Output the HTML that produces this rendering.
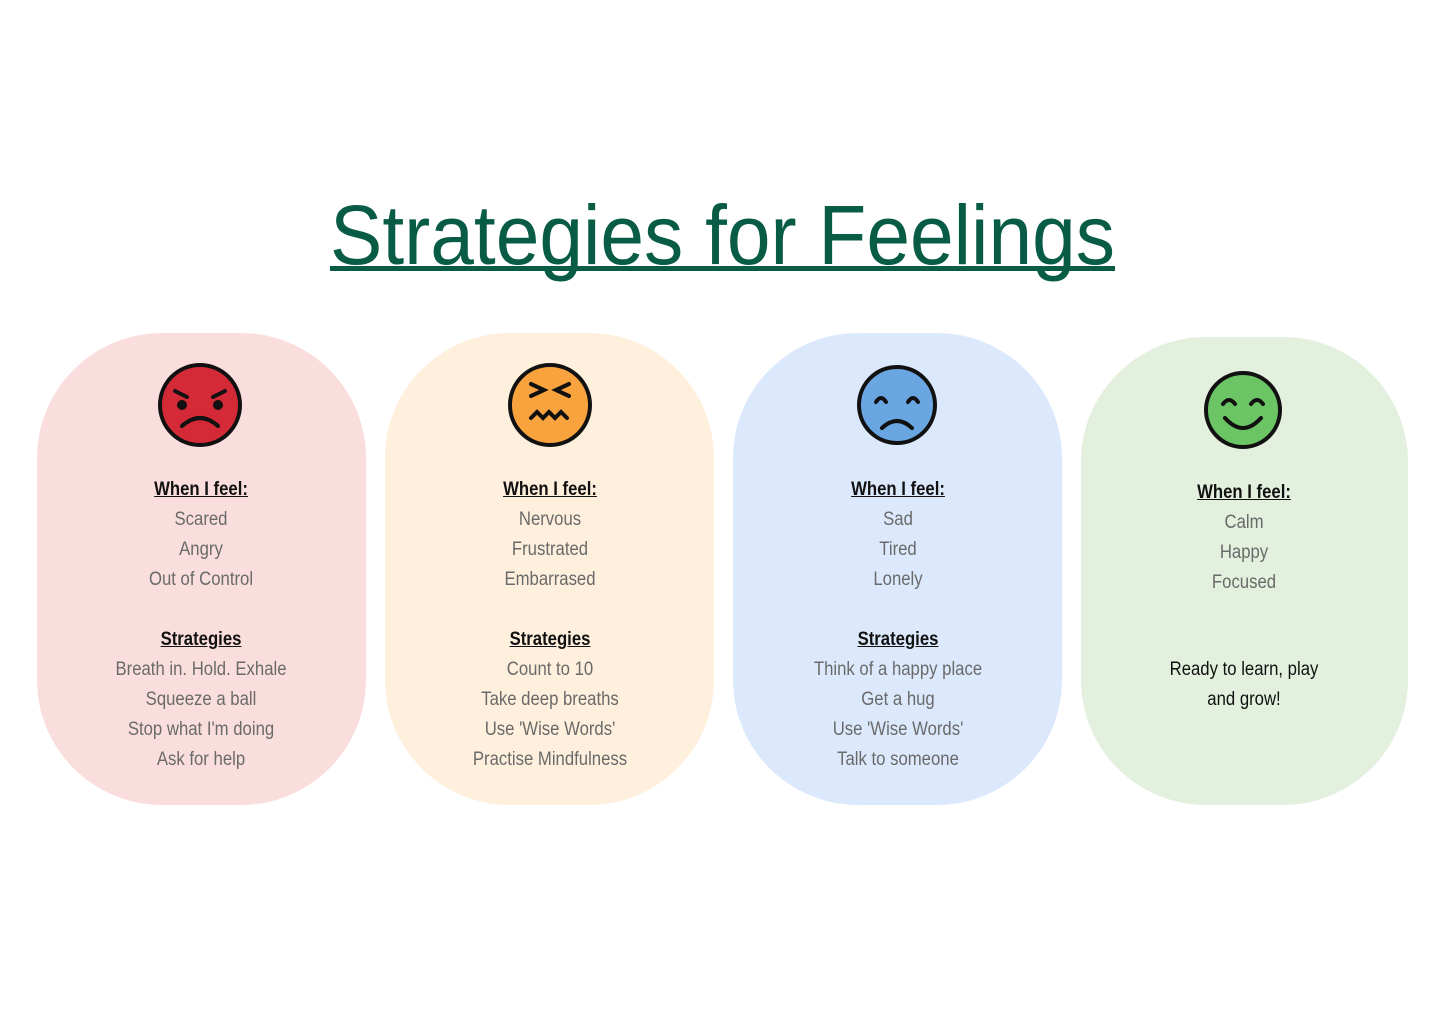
<!DOCTYPE html>
<html><head><meta charset="utf-8"><style>
body{margin:0;width:1445px;height:1025px;background:#fff;position:relative;overflow:hidden;font-family:"Liberation Sans Narrow","Liberation Sans",sans-serif}
.card{position:absolute;border-radius:125px}
.t{position:absolute;width:330px;text-align:center;font-size:19px;color:#6a6a6a;line-height:30px;transform:scaleX(0.88)}
.h{color:#111;font-weight:bold;text-decoration:underline}
.k{color:#111}
svg.f{position:absolute}
</style></head><body>
<svg width="1445" height="300" style="position:absolute;left:0;top:0">
<text x="330" y="264" textLength="785" lengthAdjust="spacingAndGlyphs" font-family="Liberation Sans, sans-serif" font-size="84" fill="#085c46">Strategies for Feelings</text>
<rect x="330" y="266" width="785" height="5" fill="#085c46"/>
</svg>
<div class="card" style="left:37px;top:333px;width:329px;height:472px;background:#fadedd"></div>
<div class="card" style="left:385px;top:333px;width:329px;height:472px;background:#fef0dc"></div>
<div class="card" style="left:733px;top:333px;width:329px;height:472px;background:#dce9fc"></div>
<div class="card" style="left:1081px;top:337px;width:327px;height:468px;background:#e3f0de"></div>

<svg class="f" style="left:0;top:0" width="1445" height="460">
<g stroke="#111" stroke-width="4" fill="none" stroke-linecap="round">
<circle cx="200" cy="405" r="40" fill="#d42a38"/>
<path d="M175 391l12 6M225 391l-12 6M182 426q18-16 36 0"/>
<circle cx="182" cy="405" r="3" fill="#111"/><circle cx="218" cy="405" r="3" fill="#111"/>
<circle cx="550" cy="405" r="40" fill="#f9a33e"/>
<path d="M531 384l13 6-13 6M569 384l-13 6 13 6M531 418l6-6 6 6 6-6 6 6 6-6 6 6"/>
<circle cx="897" cy="405" r="38" fill="#6aa6e2"/>
<path d="M876 402q5-8 10 0M908 402q5-8 10 0M882 428q15-14 30 0"/>
<circle cx="1243" cy="410" r="37" fill="#6cc564"/>
<path d="M1223 404q6-8 12 0M1251 404q6-8 12 0M1225 418q18 20 36 0"/>
</g></svg>

<div class="t" style="left:36px;top:475px"><span class="h">When I feel:</span><br>Scared<br>Angry<br>Out of Control<br><br><span class="h">Strategies</span><br>Breath in. Hold. Exhale<br>Squeeze a ball<br>Stop what I'm doing<br>Ask for help</div>
<div class="t" style="left:385px;top:475px"><span class="h">When I feel:</span><br>Nervous<br>Frustrated<br>Embarrased<br><br><span class="h">Strategies</span><br>Count to 10<br>Take deep breaths<br>Use 'Wise Words'<br>Practise Mindfulness</div>
<div class="t" style="left:733px;top:475px"><span class="h">When I feel:</span><br>Sad<br>Tired<br>Lonely<br><br><span class="h">Strategies</span><br>Think of a happy place<br>Get a hug<br>Use 'Wise Words'<br>Talk to someone</div>
<div class="t" style="left:1079px;top:478px"><span class="h">When I feel:</span><br>Calm<br>Happy<br>Focused</div>
<div class="t k" style="left:1079px;top:655px">Ready to learn, play<br>and grow!</div>
</body></html>
